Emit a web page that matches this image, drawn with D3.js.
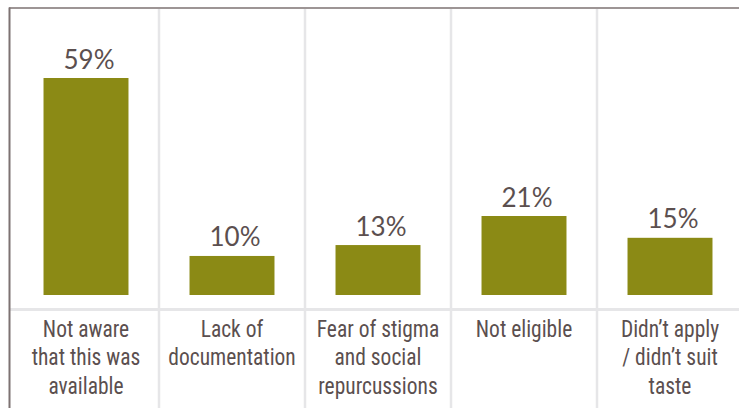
<!DOCTYPE html>
<html>
<head>
<meta charset="utf-8">
<script src="https://cdn.jsdelivr.net/npm/d3@7"></script>
<style>
  html, body { margin: 0; padding: 0; background: #fff; }
  svg { display: block; }
</style>
</head>
<body>
<svg id="chart" width="739" height="408"></svg>
<script>
const categories = [
  ["Not aware", "that this was", "available"],
  ["Lack of", "documentation"],
  ["Fear of stigma", "and social", "repurcussions"],
  ["Not eligible"],
  ["Didn\u2019t apply", "/ didn\u2019t suit", "taste"]
];
const values = [59, 10, 13, 21, 15];
const valueLabels = ["59%", "10%", "13%", "21%", "15%"];

const W = 739, H = 408;
const svg = d3.select("#chart");
const keys = d3.range(categories.length);

const x = d3.scaleBand().domain(keys).range([13, 743]).paddingInner(0.418).paddingOuter(0.209);
const y = d3.scaleLinear().domain([-0.75, 59]).range([295, 78]);

const textColor = "#5b4f4f";
const barColor = "#8b8a15";

// light grid: vertical column dividers and horizontal separator
const dividers = keys.slice(1).map(k => x(k) - x.step() * x.paddingInner() / 2);
svg.append("g").selectAll("line").data(dividers).join("line")
  .attr("x1", d => d).attr("x2", d => d)
  .attr("y1", 9).attr("y2", H)
  .attr("stroke", "#e6e6e8").attr("stroke-width", 2.5);
svg.append("line")
  .attr("x1", 10).attr("x2", W).attr("y1", 309.5).attr("y2", 309.5)
  .attr("stroke", "#e6e6e8").attr("stroke-width", 3);

// frame: top and left
svg.append("line").attr("x1", 9).attr("x2", W).attr("y1", 8).attr("y2", 8)
  .attr("stroke", "#7d7272").attr("stroke-width", 1.5);
svg.append("line").attr("x1", 9.5).attr("x2", 9.5).attr("y1", 7.5).attr("y2", H)
  .attr("stroke", "#7d7272").attr("stroke-width", 2);

// bars
svg.append("g").selectAll("rect").data(values).join("rect")
  .attr("x", (d, i) => x(i))
  .attr("width", x.bandwidth())
  .attr("y", d => y(d))
  .attr("height", d => y.range()[0] - y(d))
  .attr("fill", barColor);

// value labels
svg.append("g").selectAll("text").data(values).join("text")
  .attr("x", (d, i) => x(i) + x.bandwidth() / 2 + 3)
  .attr("y", d => y(d) - 9.5)
  .attr("text-anchor", "middle")
  .attr("font-family", "Lato, 'Open Sans', sans-serif")
  .attr("font-size", 26)
  .attr("fill", textColor)
  .text((d, i) => valueLabels[i]);

// category labels (condensed look via horizontal scaling)
const cat = svg.append("g").selectAll("text").data(categories).join("text")
  .attr("text-anchor", "middle")
  .attr("font-family", "'Roboto Condensed', Roboto, sans-serif")
  .attr("font-size", 24)
  .attr("fill", textColor)
  .attr("transform", (d, i) => `translate(${x(i) + x.bandwidth() / 2},0) scale(0.895,1)`);
cat.selectAll("tspan").data(d => d).join("tspan")
  .attr("x", 0)
  .attr("y", (d, j) => 337 + j * 28.5)
  .text(d => d);
</script>
</body>
</html>
